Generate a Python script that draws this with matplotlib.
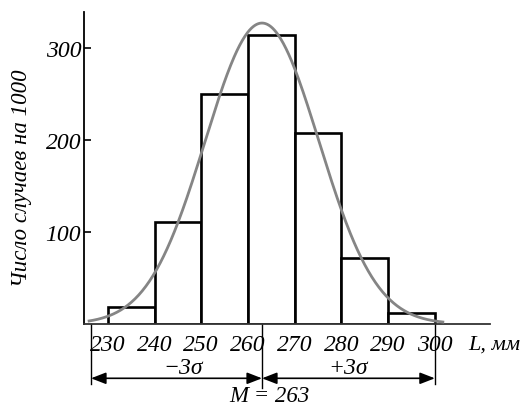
import numpy as np
import matplotlib
matplotlib.use("Agg")
import matplotlib.pyplot as plt

# histogram of lengths L (mm), cases per 1000
bin_edges = [230, 240, 250, 260, 270, 280, 290, 300]
counts = [18, 111, 250, 314, 208, 72, 12]

# normal curve parameters
M = 263
sigma = 12.2
curve_range = (225.7, 302.0)

y_ticks = [100, 200, 300]
x_ticks = [230, 240, 250, 260, 270, 280, 290, 300]

SERIF = ["Liberation Serif", "DejaVu Serif"]
plt.rcParams["font.family"] = SERIF

fig = plt.figure(figsize=(5.30, 4.06), dpi=100)
ax = fig.add_axes([84 / 530, 1 - 325 / 406, 406 / 530, 312 / 406])

ax.set_xlim(224.9, 311.8)
ax.set_ylim(0, 339)

# bars
widths = np.diff(bin_edges)
ax.bar(bin_edges[:-1], counts, width=widths, align="edge",
       facecolor="white", edgecolor="black", linewidth=1.9, zorder=2)

# normal curve over the histogram
xs = np.linspace(curve_range[0], curve_range[1], 400)
peak = 1000 * 10 / (sigma * np.sqrt(2 * np.pi))
ys = peak * np.exp(-0.5 * ((xs - M) / sigma) ** 2)
ax.plot(xs, ys, color="#858585", lw=2.0, zorder=3, solid_capstyle="butt")

# axes styling
for s in ("top", "right"):
    ax.spines[s].set_visible(False)
ax.spines["left"].set_linewidth(1.3)
ax.spines["bottom"].set_linewidth(1.3)
ax.spines["bottom"].set_color("#333333")

ax.set_yticks(y_ticks)
ax.set_yticklabels([str(v) for v in y_ticks], fontsize=17, style="italic")
ax.tick_params(axis="y", direction="in", length=5, width=1.2, pad=2)

ax.set_xticks(x_ticks)
ax.set_xticklabels([str(v) for v in x_ticks], fontsize=17, style="italic")
ax.tick_params(axis="x", length=0, pad=7)

ax.set_ylabel("Число случаев на 1000", fontsize=16.5, style="italic")
ax.yaxis.set_label_coords(-0.128, 0.47)

ax.text(307.2, -22, "L, мм", fontsize=16, style="italic",
        ha="left", va="center", clip_on=False)

# dimension lines for +-3 sigma
left_dim = M - 3 * sigma
right_dim = 300
lw_dim = 1.0
ax.plot([left_dim, left_dim], [0, -65], color="black", lw=lw_dim, clip_on=False)
ax.plot([M, M], [0, -70], color="black", lw=lw_dim, clip_on=False)
ax.plot([right_dim, right_dim], [0, -65], color="black", lw=lw_dim, clip_on=False)

arrow_y = -59
aprops = dict(arrowstyle="<|-|>,head_length=0.9,head_width=0.35",
              color="black", lw=1.2, shrinkA=0, shrinkB=0)
ax.annotate("", xy=(left_dim, arrow_y), xytext=(M, arrow_y),
            arrowprops=aprops, annotation_clip=False)
ax.annotate("", xy=(M, arrow_y), xytext=(right_dim, arrow_y),
            arrowprops=aprops, annotation_clip=False)

ax.text((left_dim + M) / 2 + 1.5, -47, "−3σ", fontsize=17, style="italic",
        ha="center", va="center", clip_on=False)
ax.text((M + right_dim) / 2, -47, "+3σ", fontsize=17, style="italic",
        ha="center", va="center", clip_on=False)
ax.text(M + 1.5, -84, "M = 263", fontsize=16.5, style="italic",
        ha="center", va="baseline", clip_on=False)

fig.savefig("out.png", dpi=100)
